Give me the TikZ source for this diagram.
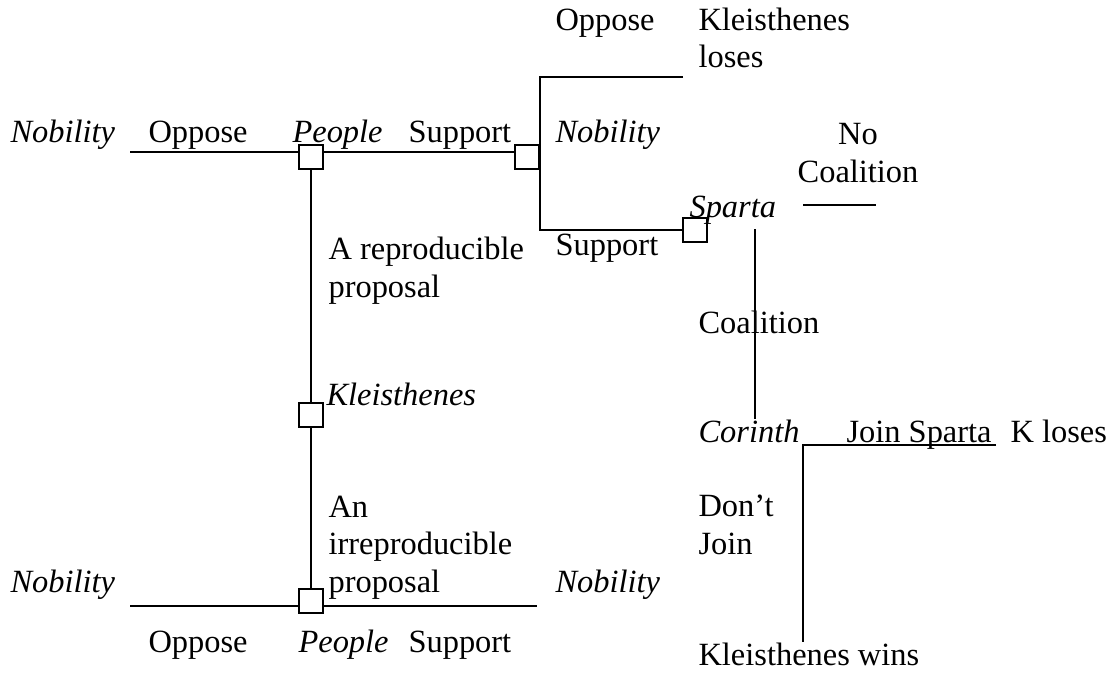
\documentclass[tikz,border=0pt]{standalone}
\usepackage{fontspec}
\setmainfont{Liberation Serif}
\begin{document}
\begin{tikzpicture}[x=0.37pt,y=-0.37pt,
    every node/.style={inner sep=0pt,anchor=base west,align=left,
      font=\fontsize{12}{13.8}\selectfont},
    choice/.style={draw,line width=0.6pt,minimum size=8.9pt,anchor=center},
    branch/.style={line width=0.75pt}]
  \useasboundingbox (0,0) rectangle (1114,677);
  % decision boxes
  \node[choice] (p1) at (311,157) {};
  \node[choice] (n1) at (527,157) {};
  \node[choice] (s1) at (695,230) {};
  \node[choice] (k) at (311,415) {};
  \node[choice] (p2) at (311,601) {};
  % labels (multi-line ones sit on their last line)
  \node (nob1) at (10,142) {\textit{Nobility}};
  \node (opp1) at (148,142) {Oppose};
  \node (peo1) at (292,142) {\textit{People}};
  \node (sup1) at (408,142) {Support};
  \node (opp2) at (555,31) {Oppose};
  \node (klo) at (698,68) {Kleisthenes\\loses};
  \node (nob2) at (555,142) {\textit{Nobility}};
  \node[anchor=base,align=center] (noc) at (858,182) {No\\Coalition};
  \node (spa) at (689,217) {\textit{Sparta}};
  \node (sup2) at (555,255) {Support};
  \node (rep) at (328,297) {A reproducible\\proposal};
  \node (coa) at (698,333) {Coalition};
  \node (kle) at (326,405) {\textit{Kleisthenes}};
  \node (cor) at (698,442) {\textit{Corinth}};
  \node (joi) at (846,442) {Join Sparta};
  \node (klos) at (1010,442) {K loses};
  \node (irr) at (328,592) {An\\irreproducible\\proposal};
  \node (dj) at (698,554) {Don’t\\Join};
  \node (nob3) at (10,592) {\textit{Nobility}};
  \node (nob4) at (555,592) {\textit{Nobility}};
  \node (opp3) at (148,652) {Oppose};
  \node (peo2) at (298,652) {\textit{People}};
  \node (sup3) at (408,652) {Support};
  \node (kwin) at (698,665) {Kleisthenes wins};
  % free ends
  \coordinate (t0) at (130,152);
  \coordinate (e1) at (683,77);
  \coordinate (c0) at (803,205);
  \coordinate (c1) at (876,205);
  \coordinate (v0) at (755,229);
  \coordinate (j0) at (803,445);
  \coordinate (j1) at (996,445);
  \coordinate (b0) at (130,606);
  \coordinate (b1) at (537,606);
  \begin{scope}[branch]
    \draw (t0) to (p1.west |- t0);
    \draw (p1.east |- t0) to (n1.west |- t0);
    \draw (e1) -| (n1.east);
    \draw (n1.east) |- (s1.west);
    \draw (c0) to (c1);
    \draw (v0) to (v0 |- cor.north);
    \draw (j1) -- (j0) -- (j0 |- kwin.north);
    \draw (p1) to (k);
    \draw (k) to (p2);
    \draw (b0) to (p2.west |- b0);
    \draw (p2.east |- b0) to (b1);
  \end{scope}
\end{tikzpicture}
\end{document}
